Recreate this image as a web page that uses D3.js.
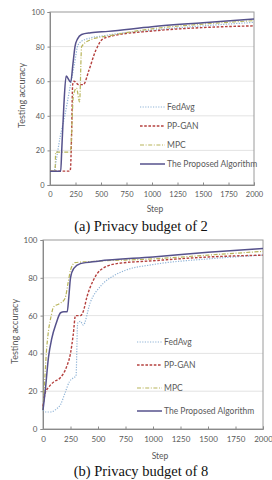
<!DOCTYPE html>
<html><head><meta charset="utf-8">
<script src="https://cdn.jsdelivr.net/npm/d3@7"></script>
<style>html,body{margin:0;padding:0;background:#fff;}svg{display:block;}</style>
</head><body>
<script>
// ---- data ----
const seriesNames = ["FedAvg", "PP-GAN", "MPC", "The Proposed Algorithm"];
const xTicks = [0, 250, 500, 750, 1000, 1250, 1500, 1750, 2000];
const yTicks = [0, 20, 40, 60, 80, 100];
const captionA = "(a) Privacy budget of 2";
const captionB = "(b) Privacy budget of 8";

// Chart (a): [step, accuracy]
const fedAvgA = [[0,8],[40,8],[60,14],[100,28],[145,40],[195,56],[240,70],[275,81],[340,84],[550,86.5],[1000,89.5],[1500,92],[2000,94]];
const ppGanA = [[0,8],[190,8],[200,9],[212,30],[222,58],[235,60],[280,58],[327,58],[380,66],[450,78],[520,84.5],[600,86],[1000,89],[1500,91],[2000,92]];
const mpcA = [[0,8],[50,8],[55,19],[200,19],[230,52],[260,56],[290,48],[310,80],[400,84],[600,86.5],[1000,90.3],[1500,93],[2000,95]];
const proposedA = [[0,8],[105,8],[115,20],[135,45],[158,63],[203,59.5],[225,70],[245,80],[270,84.5],[310,87],[400,88],[570,88.8],[1000,91.5],[1500,93.8],[2000,96]];

// Chart (b)
const fedAvgB = [[0,10],[30,9],[70,9],[120,10.5],[160,13],[200,19],[240,25],[275,27],[300,28],[315,56],[340,57],[365,55],[430,67],[530,76],[640,81],[750,84],[1000,87],[1500,90],[2000,92]];
const ppGanB = [[0,12],[20,19],[50,22],[100,25],[155,27],[215,33],[250,40],[275,50],[295,60],[340,60],[365,62],[400,70],[460,79],[520,84],[670,87.5],[1000,89],[1500,91],[2000,92]];
const mpcB = [[0,10],[15,25],[30,40],[50,52],[75,60],[95,64.5],[155,66.5],[200,69],[230,78],[250,84],[290,88],[400,88.5],[1000,90],[1500,92],[2000,94]];
const proposedB = [[0,10],[20,20],[50,38],[80,48],[120,56],[160,61.5],[190,62],[220,62],[235,70],[250,80],[280,85],[340,87.5],[500,88.8],[1000,91],[1500,93.5],[2000,95.5]];

// ---- styles ----
const colors = ["#8fb3d6", "#b5413f", "#b8b45a", "#56528c"];
const dashes = ["1.2,1.4", "2.6,1.6", "4,1.6,1,1.6", null];
const widths = [1.2, 1.4, 1.2, 1.5];
const textColor = "#595959";

const svg = d3.select("body").append("svg").attr("width", 272).attr("height", 480);
svg.append("rect").attr("width", 272).attr("height", 480).attr("fill", "#fff");

function drawChart(cfg) {
  const g = svg.append("g");
  const x = d3.scaleLinear().domain([0, 2000]).range([cfg.left, cfg.right]);
  const y = d3.scaleLinear().domain([0, 100]).range([cfg.bottom, cfg.top]);

  // gridlines
  g.append("g").selectAll("line").data(yTicks.filter(t => t > 0 && t < 100)).join("line")
    .attr("x1", cfg.left).attr("x2", cfg.right)
    .attr("y1", d => y(d)).attr("y2", d => y(d))
    .attr("stroke", "#dcdcdc").attr("stroke-width", 0.8);

  // plot border
  g.append("rect").attr("x", cfg.left).attr("y", cfg.top)
    .attr("width", cfg.right - cfg.left).attr("height", cfg.bottom - cfg.top)
    .attr("fill", "none").attr("stroke", "#9a9a9a").attr("stroke-width", 1);

  // axes
  const xAxis = d3.axisBottom(x).tickValues(xTicks).tickSize(-2.5).tickPadding(7).tickFormat(d3.format("d"));
  const gx = g.append("g").attr("transform", `translate(0,${cfg.bottom})`).call(xAxis);
  const yAxis = d3.axisLeft(y).tickValues(yTicks).tickSize(2.5).tickPadding(3);
  const gy = g.append("g").attr("transform", `translate(${cfg.left},0)`).call(yAxis);
  [gx, gy].forEach(a => {
    a.select(".domain").attr("stroke", "#8a8a8a");
    a.selectAll(".tick line").attr("stroke", "#8a8a8a");
    a.selectAll(".tick text").attr("fill", textColor)
      .style("font-family", "Lato, 'Open Sans', sans-serif").style("font-size", cfg.tickSize + "px");
  });

  // lines
  const line = d3.line().x(d => x(d[0])).y(d => y(d[1])).curve(d3.curveMonotoneX);
  cfg.series.forEach((s, i) => {
    g.append("path").datum(s).attr("d", line).attr("fill", "none")
      .attr("stroke", colors[i]).attr("stroke-width", widths[i])
      .attr("stroke-dasharray", dashes[i]);
  });

  // legend
  seriesNames.forEach((name, i) => {
    const ly = cfg.legendY[i];
    g.append("line").attr("x1", cfg.legendX).attr("x2", cfg.legendX + 25)
      .attr("y1", ly).attr("y2", ly)
      .attr("stroke", colors[i]).attr("stroke-width", widths[i])
      .attr("stroke-dasharray", dashes[i]);
    g.append("text").attr("x", cfg.legendX + 27).attr("y", ly + 3)
      .attr("fill", textColor).style("font-family", "Lato, 'Open Sans', sans-serif")
      .style("font-size", "8.5px").text(name);
  });

  // axis titles
  g.append("text").attr("transform", `translate(${cfg.yLabelX},${(cfg.top + cfg.bottom) / 2 - 3}) rotate(-90)`)
    .attr("text-anchor", "middle").attr("fill", textColor)
    .style("font-family", "Lato, 'Open Sans', sans-serif").style("font-size", "9px").text("Testing accuracy");
  g.append("text").attr("x", cfg.stepX).attr("y", cfg.stepY).attr("text-anchor", "middle")
    .attr("fill", textColor).style("font-family", "Lato, 'Open Sans', sans-serif").style("font-size", "8.5px").text("Step");

  // caption
  g.append("text").attr("x", cfg.capX).attr("y", cfg.capY).attr("text-anchor", "middle")
    .attr("fill", "#111").style("font-family", "'Liberation Serif', 'DejaVu Serif', serif")
    .style("font-size", "14.5px").text(cfg.caption);
}

drawChart({
  left: 50, right: 254, top: 12, bottom: 185,
  series: [fedAvgA, ppGanA, mpcA, proposedA],
  legendX: 140, legendY: [107, 126, 145, 164],
  tickSize: 7.5, yLabelX: 25, stepX: 155, stepY: 212,
  capX: 141, capY: 231, caption: captionA
});

drawChart({
  left: 43, right: 263, top: 240, bottom: 429,
  series: [fedAvgB, ppGanB, mpcB, proposedB],
  legendX: 137, legendY: [342, 365, 388, 411],
  tickSize: 8, yLabelX: 18, stepX: 160, stepY: 459,
  capX: 141, capY: 476, caption: captionB
});
</script>
</body></html>
